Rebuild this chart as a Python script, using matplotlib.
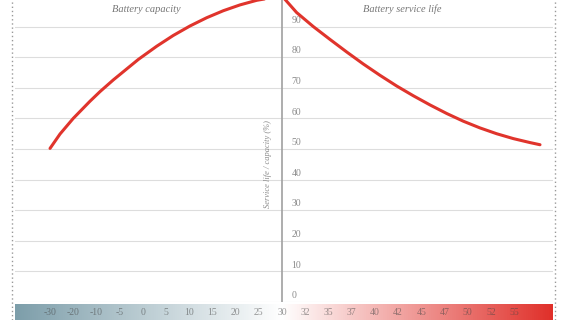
import numpy as np
import matplotlib
matplotlib.use("Agg")
import matplotlib.pyplot as plt
from matplotlib.colors import LinearSegmentedColormap
from matplotlib.lines import Line2D

plt.rcParams['font.family'] = ['Liberation Serif', 'DejaVu Serif']

# temperature labels on the colour band (deg C), one per slot
temps = [-30, -20, -10, -5, 0, 5, 10, 15, 20, 25, 30,
         32, 35, 37, 40, 42, 45, 47, 50, 52, 55]

# capacity curve (slot position, %)
cap_x = [0.0, 0.43, 1.00, 1.72, 2.16, 2.73, 3.31, 3.81, 4.60, 5.31,
         6.03, 6.75, 7.47, 8.19, 8.91, 10.0]
cap_y = [50.2, 54.9, 60.0, 65.6, 68.8, 72.6, 76.2, 79.3, 83.6, 87.1,
         90.2, 92.9, 95.2, 97.1, 98.6, 100.0]

# service life curve (slot position, %)
life_x = [10.0, 10.63, 11.35, 12.07, 12.79, 13.50, 14.22, 14.94, 15.66,
          16.38, 17.10, 17.81, 18.53, 19.25, 19.97, 20.69, 21.12]
life_y = [100.0, 94.6, 90.0, 85.8, 81.7, 77.8, 74.1, 70.6, 67.4,
          64.4, 61.6, 59.1, 56.9, 55.0, 53.4, 52.1, 51.4]

yticks = [0, 10, 20, 30, 40, 50, 60, 70, 80, 90]

W, H = 570, 320
fig = plt.figure(figsize=(W / 100, H / 100), dpi=100)

xlim = (-1.51, 21.68)
red = '#e0342c'
grey = '#8a8a8a'

ax = fig.add_axes([15 / W, 18 / H, 538 / W, 302 / H])
ax.set_xlim(*xlim)
ax.set_ylim(0, 98.7)
ax.axis('off')

for v in yticks:
    ax.axhline(v, color='#dddddd', lw=0.8, zorder=1)
    ax.text(10.4, v + 0.6, str(v), fontsize=7, color=grey,
            ha='left', va='bottom')

ax.plot([10, 10], [0, 98.7], color='#a0a0a0', lw=1.2, zorder=2)

ax.plot(cap_x, cap_y, color=red, lw=2.2, solid_capstyle='round', zorder=3)
ax.plot(life_x, life_y, color=red, lw=2.2, solid_capstyle='round', zorder=3)

ax.text(4.14, 95.6, 'Battery capacity', fontsize=7.5, style='italic',
        color='#777777', ha='center', va='center')
ax.text(15.2, 95.6, 'Battery service life', fontsize=7.5, style='italic',
        color='#777777', ha='center', va='center')
ax.text(9.4, 45, 'Service life / capacity (%)', fontsize=6, style='italic',
        color=grey, ha='center', va='center', rotation=90)

# colour band
cax = fig.add_axes([15 / W, 0, 538 / W, 16 / H])
mid = (282 - 15) / 538
cmap = LinearSegmentedColormap.from_list(
    'band', [(0, '#7d9eaa'), (mid, '#ffffff'), (1, '#e0302a')])
cax.imshow(np.linspace(0, 1, 512)[None, :], cmap=cmap, aspect='auto',
           extent=(xlim[0], xlim[1], 0, 1))
cax.set_xlim(*xlim)
cax.set_ylim(0, 1)
cax.axis('off')
for i, t in enumerate(temps):
    cax.text(i, 0.45, str(t), fontsize=7, color='#444444', alpha=0.55,
             ha='center', va='center')

# dotted side borders
for px in (12, 555):
    fig.add_artist(Line2D([px / W, px / W], [0, 1], color='#999999',
                          lw=1, linestyle=(0, (1, 2))))

fig.savefig('out.png', dpi=100)
